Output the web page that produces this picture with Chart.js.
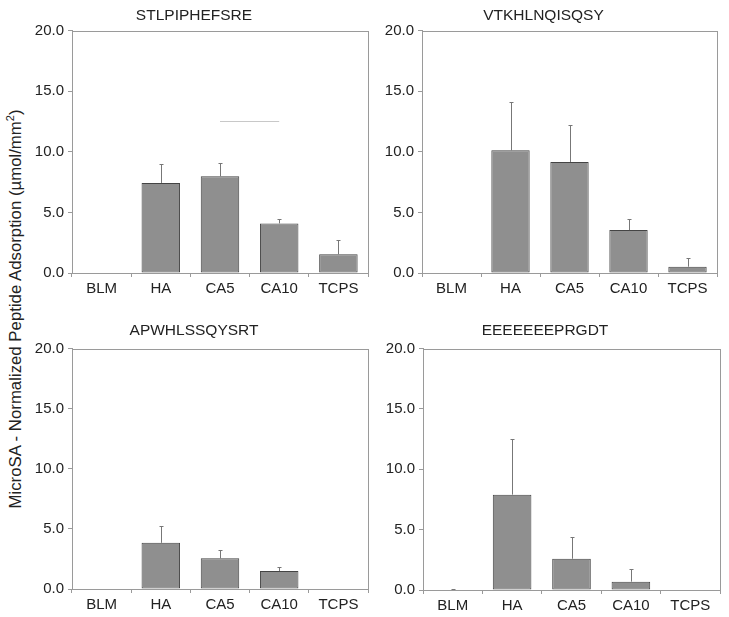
<!DOCTYPE html>
<html lang="en">
<head>
    <meta charset="UTF-8">
    <title>MicroSA peptide adsorption</title>
    <script src="https://cdn.jsdelivr.net/npm/chart.js"></script>
    <style>
        body {
            margin: 0;
            background: #fff;
            font-family: 'Liberation Sans', Arial, sans-serif;
        }
        .wrap {
            position: relative;
            width: 729px;
            height: 617px;
        }
        .panel {
            position: absolute;
        }
        .ylabel {
            position: absolute;
            left: 15px;
            top: 309px;
            transform: translate(-50%, -50%) rotate(-90deg);
            white-space: nowrap;
            font-size: 16.8px;
            color: #222;
        }
        .ylabel sup {
            font-size: 11px;
        }
    </style>
</head>
<body>
    <div class="wrap">
        <div class="ylabel">MicroSA - Normalized Peptide Adsorption (&micro;mol/mm<sup>2</sup>)</div>
        <div class="panel" style="left:20px;top:0;width:350px;height:300px"><canvas id="c1"></canvas></div>
        <div class="panel" style="left:370px;top:0;width:359px;height:300px"><canvas id="c2"></canvas></div>
        <div class="panel" style="left:20px;top:300px;width:350px;height:317px"><canvas id="c3"></canvas></div>
        <div class="panel" style="left:370px;top:300px;width:359px;height:317px"><canvas id="c4"></canvas></div>
    </div>

    <script>
        // Data
        const surfaces = ['BLM', 'HA', 'CA5', 'CA10', 'TCPS'];
        const peptides = ['STLPIPHEFSRE', 'VTKHLNQISQSY', 'APWHLSSQYSRT', 'EEEEEEEPRGDT'];
        const yTicks = [0, 5, 10, 15, 20];

        const stlpMean = [0, 7.43, 7.98, 4.09, 1.54];
        const stlpErr  = [0, 1.6, 1.12, 0.35, 1.18];
        const stlpLine = [null, null, 12.5, 12.5, null];

        const vtkhMean = [0.05, 10.12, 9.16, 3.54, 0.52];
        const vtkhErr  = [0, 3.98, 3.08, 0.9, 0.74];

        const apwhMean = [0, 3.84, 2.55, 1.49, 0];
        const apwhErr  = [0, 1.39, 0.69, 0.36, 0];

        const eeeeMean = [0.05, 7.9, 2.59, 0.69, 0];
        const eeeeErr  = [0.05, 4.63, 1.76, 1.02, 0];

        // upward-only error bars, drawn through the chart scales
        const errorBars = {
            id: 'errorBars',
            afterDatasetsDraw(chart, args, opts) {
                const errs = opts.errors;
                if (!errs) return;
                const meta = chart.getDatasetMeta(0);
                const y = chart.scales.y;
                const ctx = chart.ctx;
                ctx.save();
                ctx.strokeStyle = '#777';
                ctx.lineWidth = 1;
                meta.data.forEach((bar, i) => {
                    if (!errs[i]) return;
                    const v = chart.data.datasets[0].data[i];
                    const x = Math.round(bar.x) + 0.5;
                    const y0 = y.getPixelForValue(v);
                    const y1 = Math.round(y.getPixelForValue(v + errs[i])) + 0.5;
                    ctx.beginPath();
                    ctx.moveTo(x, y0);
                    ctx.lineTo(x, y1);
                    ctx.moveTo(x - 2, y1);
                    ctx.lineTo(x + 2, y1);
                    ctx.stroke();
                });
                ctx.restore();
            }
        };

        // grey box around the plot area
        const frame = {
            id: 'frame',
            beforeDatasetsDraw(chart) {
                const a = chart.chartArea;
                const ctx = chart.ctx;
                ctx.save();
                ctx.strokeStyle = '#9a9a9a';
                ctx.lineWidth = 1;
                ctx.strokeRect(Math.round(a.left) + 0.5, Math.round(a.top) + 0.5,
                    Math.round(a.right - a.left), Math.round(a.bottom - a.top));
                ctx.restore();
            }
        };

        function makeChart(id, title, means, errs, box, extra) {
            const datasets = [{
                type: 'bar',
                data: means,
                backgroundColor: '#8f8f8f',
                borderColor: '#444',
                borderWidth: 1,
                borderSkipped: false,
                barPercentage: 0.65,
                categoryPercentage: 1.0
            }];
            if (extra) {
                datasets.push({
                    type: 'line',
                    data: extra,
                    borderColor: '#c8c8c8',
                    borderWidth: 1,
                    pointRadius: 0,
                    spanGaps: false
                });
            }
            new Chart(document.getElementById(id), {
                data: { labels: surfaces, datasets: datasets },
                options: {
                    responsive: true,
                    maintainAspectRatio: false,
                    animation: false,
                    layout: { padding: { left: 0, right: box.right, top: 0, bottom: 0 } },
                    plugins: {
                        legend: { display: false },
                        tooltip: { enabled: false },
                        title: {
                            display: true,
                            text: title,
                            color: '#222',
                            font: { family: 'Liberation Sans', size: 15.5, weight: 'normal', lineHeight: 1.2 },
                            padding: { top: box.tTop, bottom: box.tBottom }
                        },
                        errorBars: { errors: errs }
                    },
                    scales: {
                        x: {
                            grid: { display: true, drawOnChartArea: false, tickLength: 4, color: '#9a9a9a', offset: true },
                            border: { color: '#9a9a9a' },
                            ticks: { color: '#222', font: { family: 'Liberation Sans', size: 15 }, padding: 3 },
                            afterFit(s) { s.height = box.xh; }
                        },
                        y: {
                            min: 0,
                            max: 20,
                            afterBuildTicks(s) { s.ticks = yTicks.map(v => ({ value: v })); },
                            grid: { display: true, drawOnChartArea: false, tickLength: 4, color: '#9a9a9a' },
                            border: { color: '#9a9a9a' },
                            ticks: {
                                color: '#222',
                                font: { family: 'Liberation Sans', size: 15 },
                                padding: 4,
                                callback: v => v.toFixed(1)
                            },
                            afterFit(s) { s.width = box.left; }
                        }
                    }
                },
                plugins: [frame, errorBars]
            });
        }

        makeChart('c1', peptides[0], stlpMean, stlpErr, { left: 52, right: 2, tTop: 6, tBottom: 6, xh: 27 }, stlpLine);
        makeChart('c2', peptides[1], vtkhMean, vtkhErr, { left: 52, right: 12, tTop: 6, tBottom: 6, xh: 27 });
        makeChart('c3', peptides[2], apwhMean, apwhErr, { left: 52, right: 2, tTop: 21, tBottom: 9, xh: 28 });
        makeChart('c4', peptides[3], eeeeMean, eeeeErr, { left: 53, right: 9, tTop: 21, tBottom: 9, xh: 27 });
    </script>
</body>
</html>
